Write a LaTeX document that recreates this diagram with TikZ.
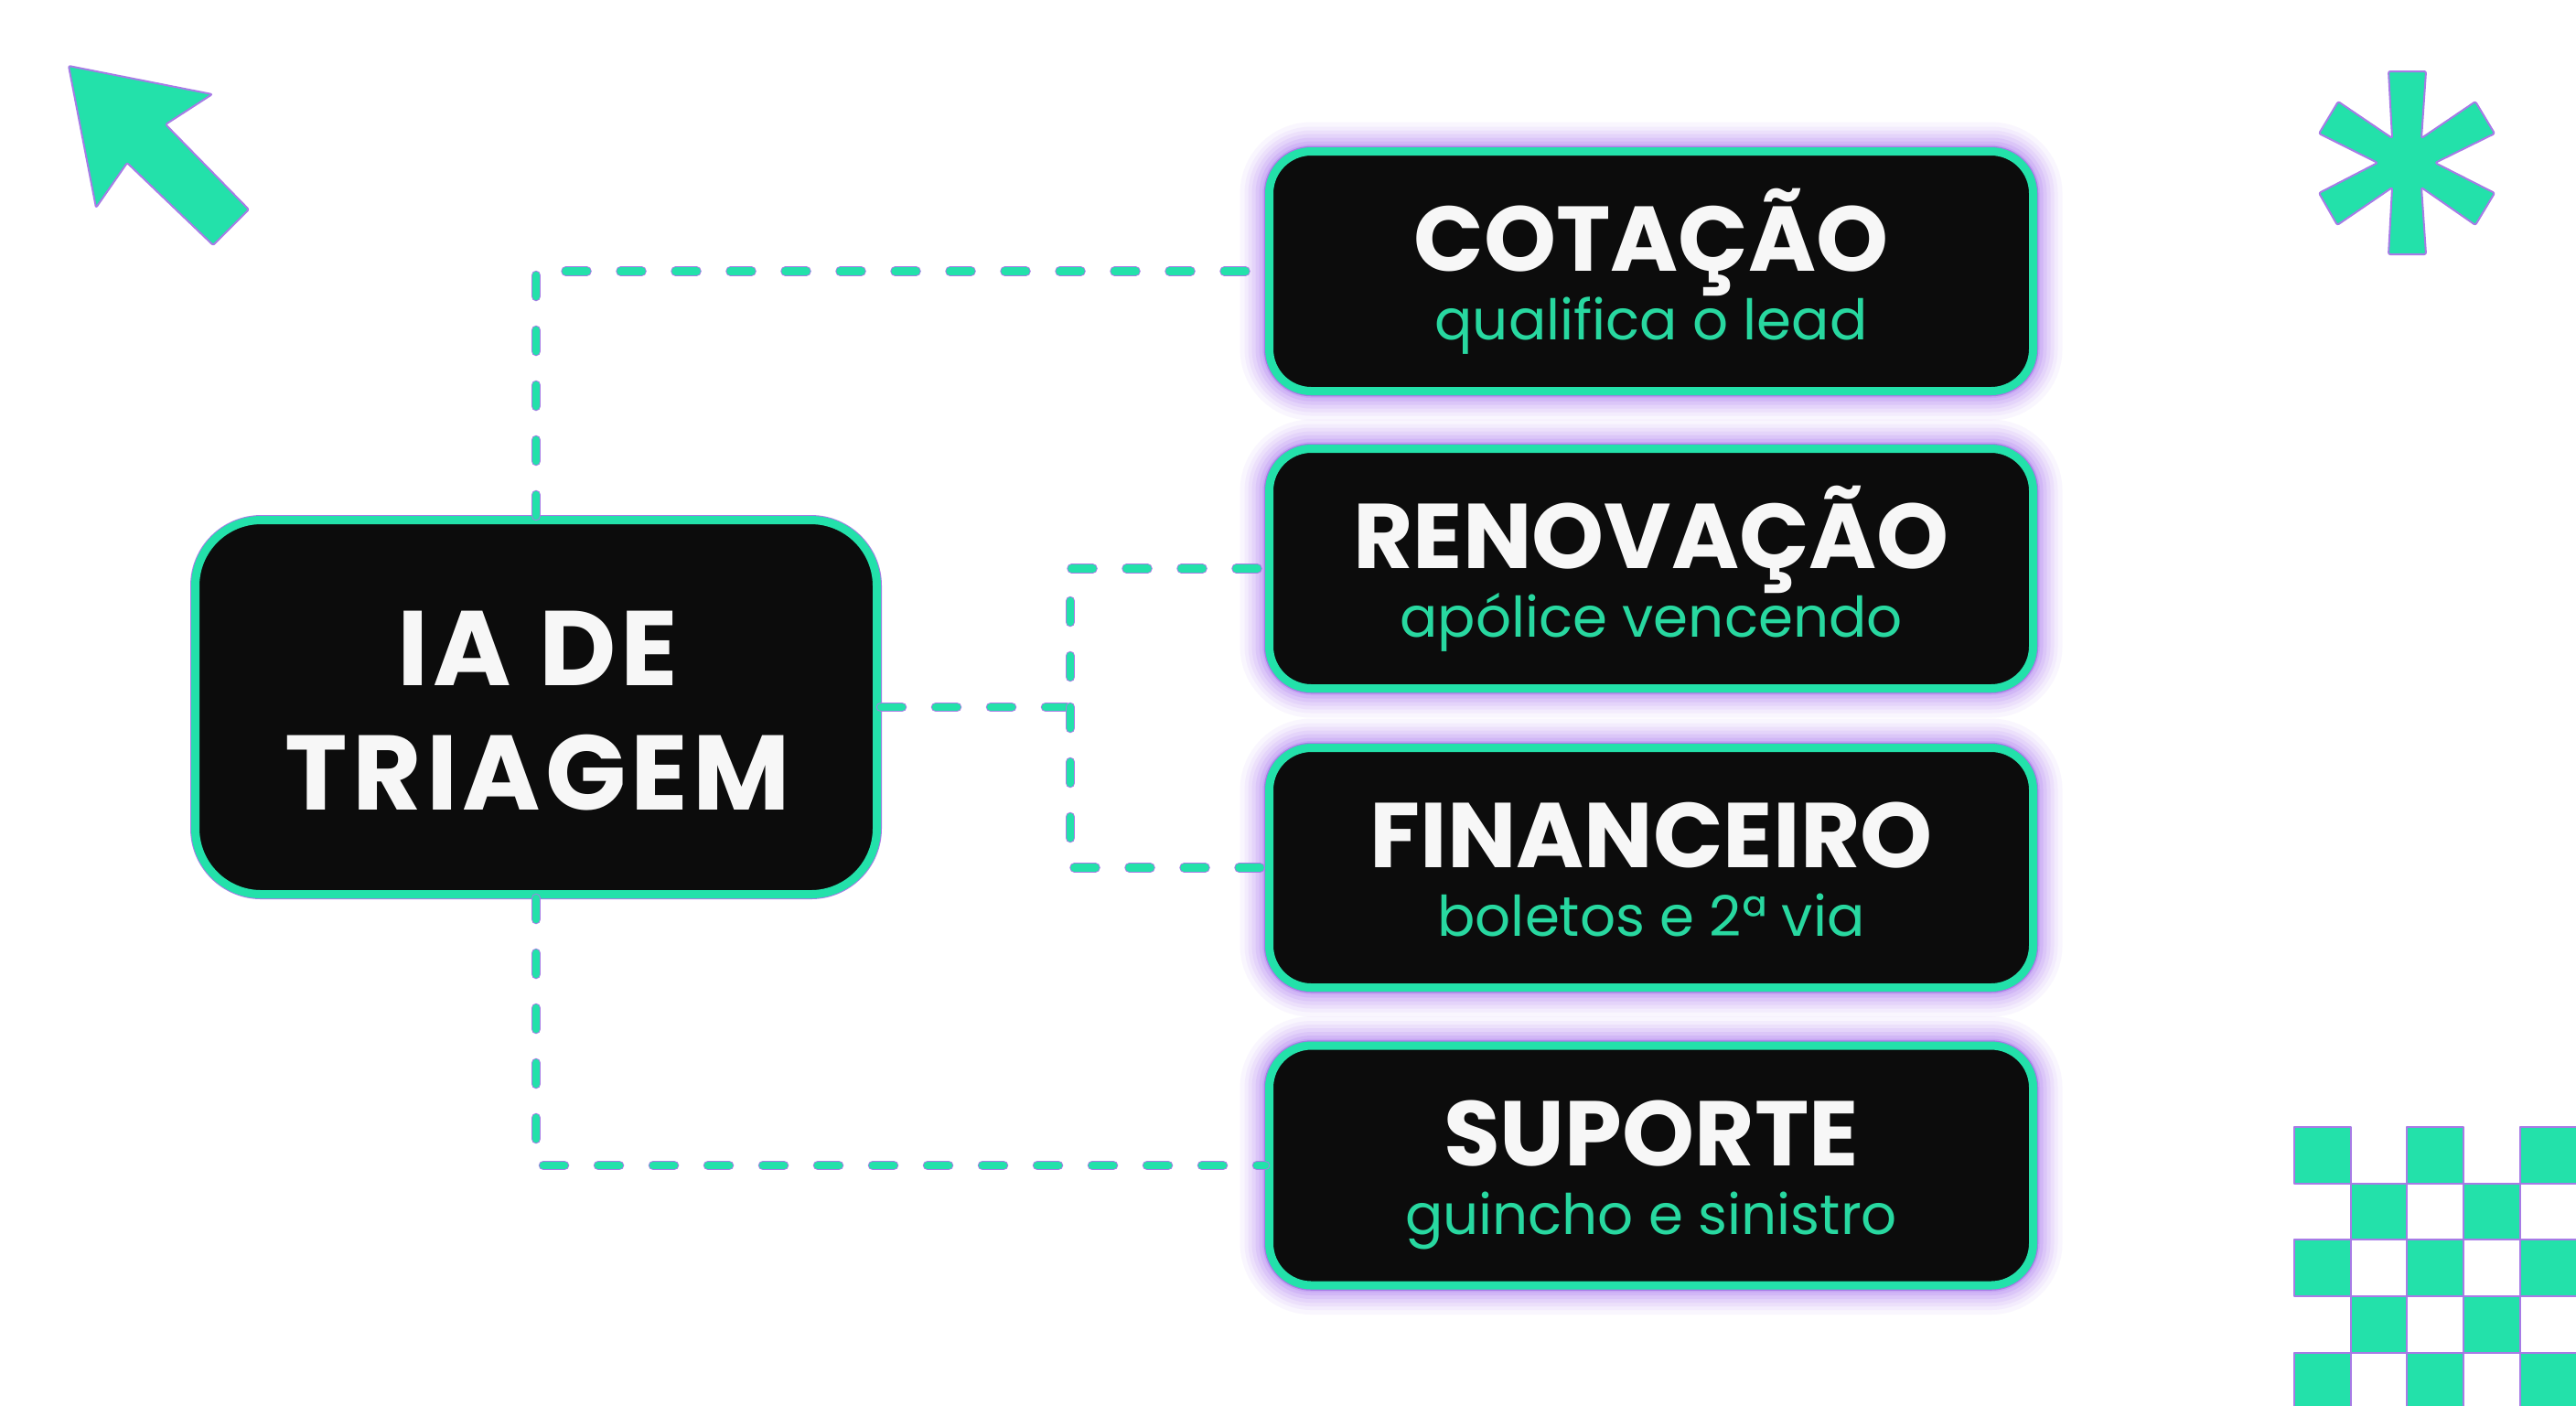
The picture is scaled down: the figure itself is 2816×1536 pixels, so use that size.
\documentclass[tikz,border=0pt]{standalone}
\usepackage{fontspec}
\setmainfont{Poppins}
\definecolor{brd}{HTML}{23E1AA}
\definecolor{subg}{HTML}{28D8A0}
\definecolor{boxfill}{HTML}{0C0C0C}
\definecolor{glow}{HTML}{9A5CF0}
\definecolor{edgep}{HTML}{A77BE6}
\definecolor{titlew}{HTML}{F7F7F7}
\tikzset{
  catbox/.style={draw=brd, line width=0.9mm, fill=boxfill, rounded corners=4.6mm,
    minimum width=83.5mm, minimum height=26.2mm, inner sep=0pt,
    preaction={draw=glow, line width=6.4mm, draw opacity=0.05},
    preaction={draw=glow, line width=5.4mm, draw opacity=0.06},
    preaction={draw=glow, line width=4.6mm, draw opacity=0.08},
    preaction={draw=glow, line width=3.8mm, draw opacity=0.09},
    preaction={draw=glow, line width=3.0mm, draw opacity=0.11},
    preaction={draw=glow, line width=2.2mm, draw opacity=0.14},
    preaction={draw=glow, line width=1.5mm, draw opacity=0.18},
    preaction={draw=edgep, line width=1.15mm}},
  mainbox/.style={draw=brd, line width=0.9mm, fill=boxfill, rounded corners=7.2mm,
    minimum width=74.5mm, minimum height=40.9mm, inner sep=0pt,
    preaction={draw=edgep, line width=1.1mm}},
  cattitle/.style={anchor=base, inner sep=0pt, text=titlew,
    font=\fontsize{28.6pt}{30pt}\selectfont\bfseries},
  catsub/.style={anchor=base, inner sep=0pt, text=subg,
    font=\fontsize{17.4pt}{20pt}\selectfont},
  maintitle/.style={inner sep=0pt, text=titlew, align=center,
    font=\fontsize{33pt}{38.7pt}\selectfont\bfseries\addfontfeature{LetterSpace=4.5}},
  conn/.style={draw=brd, line width=0.85mm, line cap=round, line join=round,
    dash pattern=on 2.3mm off 3.7mm,
    preaction={draw=edgep, line width=1.05mm, line cap=round, line join=round, dash pattern=on 2.3mm off 3.7mm}},
  deco/.style={fill=brd, draw=edgep, line width=0.2mm, line join=round},
}
\begin{document}
\begin{tikzpicture}[x=0.1mm,y=-0.1mm]
\useasboundingbox (0,0) rectangle (2816,1536);
\fill[white] (0,0) rectangle (2816,1536);

% decorative arrow (top left)
\path[deco, rounded corners=0.2mm] (75,72) -- (232,103) -- (181,136) -- (272,229) -- (233,268) -- (139,178) -- (105,227) -- cycle;

% asterisk (top right)
\path[deco, rounded corners=0.2mm] (2611,78) -- (2652,78) -- (2647,151) -- (2706,111) -- (2727,146) -- (2662,178)
  -- (2727,211) -- (2706,246) -- (2647,205) -- (2652,278) -- (2611,278) -- (2615,205)
  -- (2555,246) -- (2535,211) -- (2599,178) -- (2535,146) -- (2556,111) -- (2615,151) -- cycle;

% checkerboard (bottom right)
\begin{scope}
\clip (0,0) rectangle (2816,1536);
\foreach \r in {0,...,4}{
  \foreach \c in {0,...,4}{
    \pgfmathtruncatemacro{\parity}{mod(\r+\c,2)}
    \ifnum\parity=0
      \path[deco] ({2508+\c*61.7},{1232+\r*61.7}) rectangle ++(61.7,61.7);
    \fi
  }
}
\end{scope}

% central node
\node[mainbox] (main) at (586,773) {};
\node[maintitle] (mainT) at (588,777) {IA DE\\TRIAGEM};

% category boxes
\node[catbox] (cot) at (1805,296.5) {};
\node[catbox] (ren) at (1805,621.5) {};
\node[catbox] (fin) at (1805,948.5) {};
\node[catbox] (sup) at (1805,1274) {};

\node[cattitle] (cotT) at (1805,296) {COTAÇÃO};
\node[catsub] (cotS) at (1805,371) {qualifica o lead};
\node[cattitle] (renT) at (1805,621) {RENOVAÇÃO};
\node[catsub] (renS) at (1805,696) {apólice vencendo};
\node[cattitle] (finT) at (1805,948) {FINANCEIRO};
\node[catsub] (finS) at (1805,1023) {boletos e 2ª via};
\node[cattitle] (supT) at (1805,1274) {SUPORTE};
\node[catsub] (supS) at (1805,1349) {guincho e sinistro};

% connectors
\coordinate (j) at (1170,773);
\draw[conn] (main.north) |- (cot.west);
\draw[conn] (main.east) -- (j) |- (ren.west);
\draw[conn] (j) |- (fin.west);
\draw[conn] (main.south) |- (sup.west);
\end{tikzpicture}
\end{document}
